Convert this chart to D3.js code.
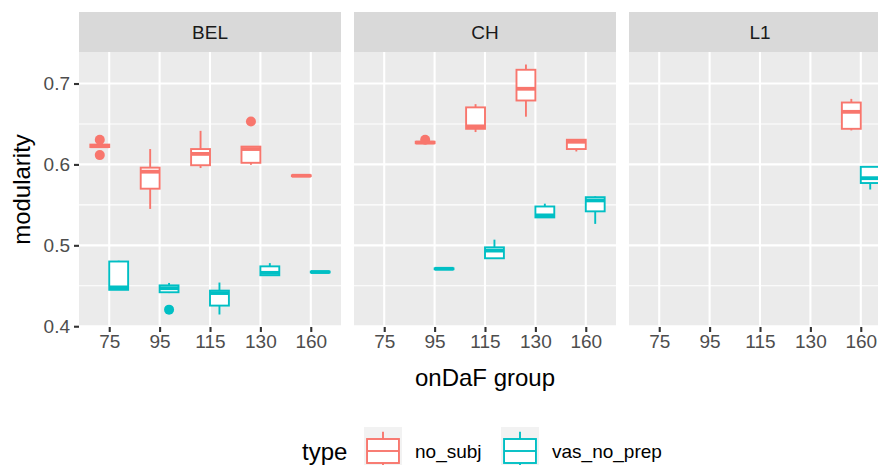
<!DOCTYPE html>
<meta charset="utf-8">
<style>
html, body {
  margin: 0;
  background: #fff;
}
svg text {
  font-family: "Liberation Sans", Arial, sans-serif;
}
</style>
<svg width="878" height="465"></svg>
<script src="https://cdn.jsdelivr.net/npm/d3@7"></script>
<script>
// values: [group, type, ymin, q1, median, q3, ymax]
const facets = ['BEL', 'CH', 'L1'];
const groups = ['75', '95', '115', '130', '160'];
const types = ['no_subj', 'vas_no_prep'];
const colors = ['#F8766D', '#00BFC4'];

const belStats = [
  ['75', 'no_subj', 0.6215, 0.6215, 0.6225, 0.6245, 0.6245],
  ['75', 'vas_no_prep', 0.445, 0.445, 0.448, 0.480, 0.481],
  ['95', 'no_subj', 0.545, 0.570, 0.591, 0.596, 0.619],
  ['95', 'vas_no_prep', 0.441, 0.442, 0.447, 0.4505, 0.4535],
  ['115', 'no_subj', 0.5955, 0.599, 0.613, 0.619, 0.6415],
  ['115', 'vas_no_prep', 0.4145, 0.4255, 0.441, 0.444, 0.454],
  ['130', 'no_subj', 0.5995, 0.602, 0.619, 0.622, 0.622],
  ['130', 'vas_no_prep', 0.4625, 0.463, 0.466, 0.474, 0.478],
  ['160', 'no_subj', 0.585, 0.5855, 0.586, 0.5865, 0.587],
  ['160', 'vas_no_prep', 0.4665, 0.4665, 0.467, 0.4675, 0.4675]
];
const chStats = [
  ['95', 'no_subj', 0.626, 0.6262, 0.627, 0.628, 0.628],
  ['95', 'vas_no_prep', 0.4705, 0.4705, 0.471, 0.4715, 0.4715],
  ['115', 'no_subj', 0.640, 0.644, 0.647, 0.6705, 0.6745],
  ['115', 'vas_no_prep', 0.4835, 0.484, 0.4935, 0.4975, 0.507],
  ['130', 'no_subj', 0.659, 0.679, 0.6935, 0.717, 0.7235],
  ['130', 'vas_no_prep', 0.534, 0.5345, 0.537, 0.548, 0.5515],
  ['160', 'no_subj', 0.616, 0.619, 0.628, 0.6305, 0.6305],
  ['160', 'vas_no_prep', 0.5265, 0.542, 0.5555, 0.5595, 0.5605]
];
const l1Stats = [
  ['160', 'no_subj', 0.642, 0.644, 0.665, 0.6765, 0.681],
  ['160', 'vas_no_prep', 0.569, 0.577, 0.583, 0.597, 0.597]
];
// outliers: [facet, group, type, value]
const outliers = [
  ['BEL', '75', 'no_subj', 0.6305],
  ['BEL', '75', 'no_subj', 0.6115],
  ['BEL', '95', 'vas_no_prep', 0.4205],
  ['BEL', '130', 'no_subj', 0.653],
  ['CH', '95', 'no_subj', 0.6305]
];
const yTicks = [0.4, 0.5, 0.6, 0.7];
const yMinor = [0.45, 0.55, 0.65];

const stats = { BEL: belStats, CH: chStats, L1: l1Stats };

const svg = d3.select('svg');
const panelLeft = 79, panelW = 262, panelGap = 13;
const stripTop = 12, stripH = 40;
const panelTop = stripTop + stripH, panelBottom = 327;

// y domain like ggplot: data range + 5% each side
const allVals = [];
facets.forEach(f => stats[f].forEach(r => allVals.push(r[2], r[6])));
outliers.forEach(o => allVals.push(o[3]));
const [lo, hi] = d3.extent(allVals);
const pad = (hi - lo) * 0.05;
const y = d3.scaleLinear().domain([lo - pad, hi + pad]).range([panelBottom, panelTop]);

const color = d3.scaleOrdinal().domain(types).range(colors);

facets.forEach((f, i) => {
  const x0 = panelLeft + i * (panelW + panelGap);
  const x = d3.scalePoint().domain(groups).range([x0, x0 + panelW]).padding(0.6);
  const step = x.step();
  const dodge = d3.scaleBand().domain(types).range([-0.375 * step, 0.375 * step]);
  const bw = dodge.bandwidth();

  // strip
  svg.append('rect')
    .attr('x', x0).attr('y', stripTop)
    .attr('width', panelW).attr('height', stripH)
    .attr('fill', '#d9d9d9');
  svg.append('text')
    .attr('x', x0 + panelW / 2).attr('y', stripTop + stripH / 2 + 7)
    .attr('text-anchor', 'middle')
    .attr('font-size', 19)
    .attr('fill', '#1a1a1a')
    .text(f);

  // panel
  const g = svg.append('g');
  g.append('rect')
    .attr('x', x0).attr('y', panelTop)
    .attr('width', panelW).attr('height', panelBottom - panelTop)
    .attr('fill', '#ebebeb');
  g.selectAll('.minor')
    .data(yMinor)
    .enter()
    .append('line')
    .attr('x1', x0).attr('x2', x0 + panelW)
    .attr('y1', d => y(d)).attr('y2', d => y(d))
    .attr('stroke', '#fff').attr('stroke-width', 1.1);
  g.selectAll('.major')
    .data(yTicks)
    .enter()
    .append('line')
    .attr('x1', x0).attr('x2', x0 + panelW)
    .attr('y1', d => y(d)).attr('y2', d => y(d))
    .attr('stroke', '#fff').attr('stroke-width', 2.1);
  g.selectAll('.vgrid')
    .data(groups)
    .enter()
    .append('line')
    .attr('x1', d => x(d)).attr('x2', d => x(d))
    .attr('y1', panelTop).attr('y2', panelBottom)
    .attr('stroke', '#fff').attr('stroke-width', 2.1);

  // x axis
  const xa = svg.append('g')
    .attr('transform', `translate(0,${panelBottom})`)
    .call(d3.axisBottom(x).tickSize(5).tickPadding(3));
  xa.select('.domain').remove();
  xa.selectAll('line').attr('stroke', '#333').attr('stroke-width', 2.1);
  xa.selectAll('text')
    .attr('font-size', 19)
    .attr('fill', '#4d4d4d')
    .attr('font-family', '"Liberation Sans", Arial, sans-serif');

  // boxes
  const boxes = g.selectAll('.box')
    .data(stats[f])
    .enter()
    .append('g')
    .attr('transform', d => `translate(${x(d[0]) + dodge(d[1]) + bw / 2},0)`)
    .attr('stroke', d => color(d[1]));
  boxes.append('line')
    .attr('y1', d => y(d[5])).attr('y2', d => y(d[6]))
    .attr('stroke-width', 1.9);
  boxes.append('line')
    .attr('y1', d => y(d[3])).attr('y2', d => y(d[2]))
    .attr('stroke-width', 1.9);
  boxes.append('rect')
    .attr('x', -bw / 2).attr('width', bw)
    .attr('y', d => y(d[5]))
    .attr('height', d => y(d[3]) - y(d[5]))
    .attr('fill', '#fff')
    .attr('stroke-width', 1.9);
  boxes.append('line')
    .attr('x1', -bw / 2).attr('x2', bw / 2)
    .attr('y1', d => y(d[4])).attr('y2', d => y(d[4]))
    .attr('stroke-width', 3.8);

  g.selectAll('.out')
    .data(outliers.filter(o => o[0] === f))
    .enter()
    .append('circle')
    .attr('cx', d => x(d[1]) + dodge(d[2]) + bw / 2)
    .attr('cy', d => y(d[3]))
    .attr('r', 5)
    .attr('fill', d => color(d[2]));
});

// y axis
const ya = svg.append('g')
  .attr('transform', `translate(${panelLeft},0)`)
  .call(d3.axisLeft(y).tickValues(yTicks).tickFormat(d3.format('.1f')).tickSize(5).tickPadding(4));
ya.select('.domain').remove();
ya.selectAll('line').attr('stroke', '#333').attr('stroke-width', 2.1);
ya.selectAll('text')
  .attr('font-size', 19)
  .attr('fill', '#4d4d4d')
  .attr('font-family', '"Liberation Sans", Arial, sans-serif');

// axis titles
const fullRight = panelLeft + 3 * panelW + 2 * panelGap;
svg.append('text')
  .attr('x', (panelLeft + fullRight) / 2).attr('y', 386)
  .attr('text-anchor', 'middle')
  .attr('font-size', 24)
  .text('onDaF group');
svg.append('text')
  .attr('transform', `translate(30,${(panelTop + panelBottom) / 2}) rotate(-90)`)
  .attr('text-anchor', 'middle')
  .attr('font-size', 24)
  .text('modularity');

// legend
const legend = svg.append('g');
legend.append('text')
  .attr('x', 302).attr('y', 460)
  .attr('font-size', 24)
  .text('type');
const keyX = [364, 501];
const keyW = 38, keyTop = 427, keyH = 48;
types.forEach((t, i) => {
  const k = legend.append('g')
    .attr('transform', `translate(${keyX[i]},${keyTop})`)
    .attr('stroke', color(t));
  k.append('rect')
    .attr('width', keyW).attr('height', keyH)
    .attr('fill', '#f2f2f2').attr('stroke', 'none');
  k.append('line')
    .attr('x1', keyW / 2).attr('x2', keyW / 2)
    .attr('y1', keyH * 0.1).attr('y2', keyH * 0.25)
    .attr('stroke-width', 1.9);
  k.append('line')
    .attr('x1', keyW / 2).attr('x2', keyW / 2)
    .attr('y1', keyH * 0.75).attr('y2', keyH * 0.9)
    .attr('stroke-width', 1.9);
  k.append('rect')
    .attr('x', keyW * 0.08).attr('width', keyW * 0.84)
    .attr('y', keyH * 0.25).attr('height', keyH * 0.5)
    .attr('fill', '#fff')
    .attr('stroke-width', 1.9);
  k.append('line')
    .attr('x1', keyW * 0.08).attr('x2', keyW * 0.92)
    .attr('y1', keyH * 0.5).attr('y2', keyH * 0.5)
    .attr('stroke-width', 1.9);
  legend.append('text')
    .attr('x', keyX[i] + keyW + 13).attr('y', 458)
    .attr('font-size', 19)
    .text(t);
});
</script>
